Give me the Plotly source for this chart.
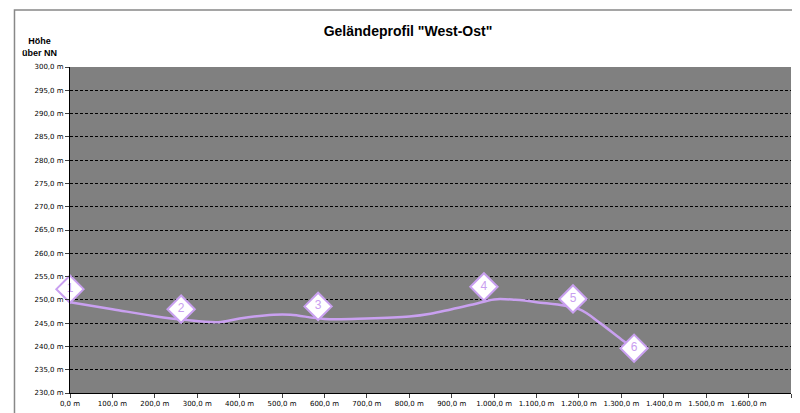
import plotly.graph_objects as go

# profile line (distance in m, height in m)
dist = [0, 100, 200, 270, 350, 400, 480, 520, 600, 700, 800, 850, 900, 950, 1000, 1050, 1100, 1200, 1250, 1300, 1335]
height = [249.5, 248.0, 246.5, 245.7, 245.2, 246.0, 246.8, 246.8, 245.9, 246.0, 246.4, 247.0, 248.0, 249.0, 250.1, 250.0, 249.5, 248.0, 245.0, 241.5, 239.3]

# numbered waypoints
wp_labels = ["1", "2", "3", "4", "5", "6"]
wp_dist = [0, 262, 585, 976, 1186, 1330]
wp_height = [252.3, 248.0, 248.6, 252.8, 250.2, 239.6]

x_ticks = list(range(0, 1701, 100))
x_text = [f"{v:,.1f} m".replace(",", "X").replace(".", ",").replace("X", ".") for v in x_ticks]
y_ticks = list(range(230, 301, 5))
y_text = [f"{v:.1f} m".replace(".", ",") for v in y_ticks]

purple = "#c9a0f0"

fig = go.Figure()
fig.add_trace(go.Scatter(x=dist, y=height, mode="lines", line=dict(color=purple, width=2.5, shape="spline"),
                         hoverinfo="skip"))
fig.add_trace(go.Scatter(x=wp_dist, y=wp_height, mode="markers+text", text=wp_labels,
                         textposition="middle center",
                         textfont=dict(color=purple, size=12, family="Liberation Sans"),
                         marker=dict(symbol="diamond", size=21, color="white",
                                     line=dict(color=purple, width=2)),
                         cliponaxis=False))

fig.update_layout(
    width=800, height=413,
    paper_bgcolor="white", plot_bgcolor="#808080",
    margin=dict(l=62, r=17, t=59, b=28, autoexpand=False),
    showlegend=False,
    font=dict(family="DejaVu Sans", size=7, color="black"),
    title=dict(text='<b>Geländeprofil "West-Ost"</b>', x=0.5, xanchor="center", y=0.955,
               font=dict(family="Liberation Sans", size=14)),
    annotations=[dict(text="<b>Höhe<br>über NN</b>", xref="paper", yref="paper", x=-0.015, y=1.02,
                      xanchor="right", yanchor="bottom", showarrow=False, align="center",
                      font=dict(family="Liberation Sans", size=9))],
    shapes=[dict(type="rect", xref="paper", yref="paper", x0=-0.077, x1=1.021, y0=-0.085, y1=1.175,
                 line=dict(color="#888888", width=1.5))],
)
fig.update_xaxes(range=[0, 1700], tickvals=x_ticks, ticktext=x_text, showgrid=False, tickangle=0,
                 automargin=False, ticks="outside", ticklen=4, showline=True, linecolor="black",
                 zeroline=False)
fig.update_yaxes(range=[230, 300], tickvals=y_ticks, ticktext=y_text, showgrid=True,
                 gridcolor="black", griddash="3px,2px", gridwidth=1, automargin=False,
                 ticks="outside", ticklen=4, showline=True, linecolor="black", zeroline=False)

fig.write_html("out.html")
